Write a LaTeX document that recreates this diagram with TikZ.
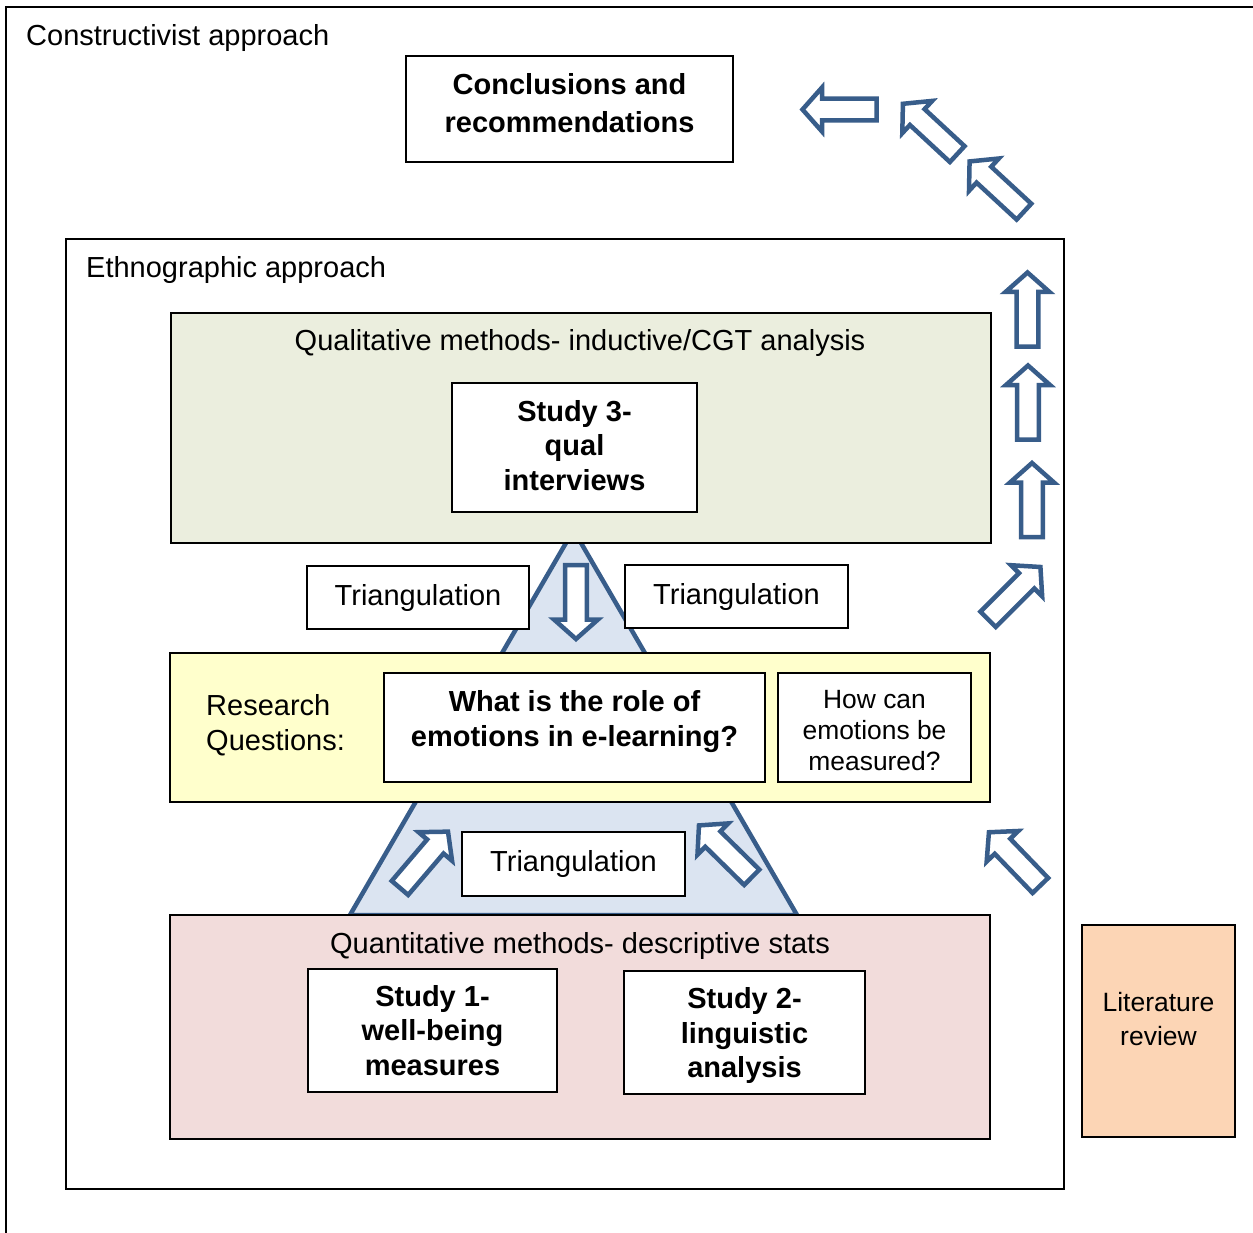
\documentclass[tikz,border=0pt]{standalone}
\usepackage{fontspec}
\setmainfont{Liberation Sans}
\definecolor{arrowblue}{HTML}{385D8A}
\definecolor{trifill}{HTML}{DBE4F1}
\definecolor{qualfill}{HTML}{EBEEDE}
\definecolor{rqfill}{HTML}{FFFFCC}
\definecolor{quantfill}{HTML}{F2DCDB}
\definecolor{litfill}{HTML}{FCD5B5}
\newcommand\bodyfont{\fontsize{29}{34.5}\selectfont}
\newcommand\smallbody{\fontsize{26.4}{31}\selectfont}
\tikzset{
  x=1pt, y=-1pt,
  frame/.style={draw=black, line width=2pt},
  panel/.style={draw=black, line width=2pt, inner sep=0pt},
  box/.style={draw=black, line width=2pt, fill=white, inner sep=0pt,
    align=center, font=\bodyfont},
  label text/.style={inner sep=0pt, font=\bodyfont},
  barrow/.style={draw=arrowblue, line width=4.5pt, fill=white, line join=miter},
}
% block arrow: #1 centre, #2 direction angle
\newcommand\blockarrow[2]{%
  \begin{scope}[shift={#1}, rotate=#2]
    \draw[barrow] (-37.5,-10.8) -- (17,-10.8) -- (17,-22) -- (36.5,0)
      -- (17,22) -- (17,10.8) -- (-37.5,10.8) -- cycle;
  \end{scope}}
\begin{document}
\begin{tikzpicture}
\useasboundingbox (0,0) rectangle (1253,1233);
\fill[white] (0,0) rectangle (1253,1233);

% outermost frame
\begin{scope}
  \clip (0,0) rectangle (1253,1233);
  \draw[frame] (6,7) rectangle (1280,1260);
\end{scope}
\node[label text, anchor=base west] (constr) at (26,46) {Constructivist approach};

\node[box, minimum width=327, minimum height=106] (concl) at (569.5,109) {};
\node[label text, align=center, font=\fontsize{29}{38}\selectfont\bfseries]
  (conclt) at (569.5,103) {Conclusions and\\recommendations};

% ethnographic frame
\node[panel, fill=white, minimum width=998, minimum height=950] (ethno) at (565,714) {};
\node[label text, anchor=base west] (ethnot) at (86,278) {Ethnographic approach};

% triangulation triangle behind the panels
\draw[draw=arrowblue, fill=trifill, line width=4.5pt, line join=round]
  (573.5,530) -- (797,915) -- (350,915) -- cycle;

% qualitative panel
\node[panel, fill=qualfill, minimum width=820, minimum height=230] (qual) at (581,428) {};
\node[label text, anchor=base] (qualt) at (580,351) {Qualitative methods- inductive/CGT analysis};
\node[box, minimum width=245, minimum height=129] (study3) at (574.5,447.5) {};
\node[label text, align=center, font=\bodyfont\bfseries]
  (study3t) at (574.5,445.5) {Study 3-\\qual\\interviews};

% triangulation labels
\node[box, minimum width=222, minimum height=63] (tri1) at (418,597.5) {Triangulation};
\node[box, minimum width=223, minimum height=63] (tri2) at (736.5,596.5) {Triangulation};

% research questions panel
\node[panel, fill=rqfill, minimum width=820, minimum height=149] (rq) at (580,727.5) {};
\node[label text, anchor=west, align=left] (rqt) at (206,725) {Research\\Questions:};
\node[box, minimum width=381, minimum height=109] (q1) at (574.5,727.5) {};
\node[label text, align=center, font=\bodyfont\bfseries]
  (q1t) at (574.5,721.5) {What is the role of\\emotions in e-learning?};
\node[box, minimum width=193, minimum height=109] (q2) at (874.5,727.5) {};
\node[label text, align=center, font=\smallbody]
  (q2t) at (874.5,730.5) {How can\\emotions be\\measured?};

\node[box, minimum width=223, minimum height=64] (tri3) at (573.5,864) {Triangulation};

% quantitative panel
\node[panel, fill=quantfill, minimum width=820, minimum height=224] (quant) at (580,1027) {};
\node[label text, anchor=base] (quantt) at (580,953) {Quantitative methods- descriptive stats};
\node[box, font=\bodyfont\bfseries, minimum width=249, minimum height=123]
  (study1) at (432.5,1030.5) {Study 1-\\well-being\\measures};
\node[box, minimum width=241, minimum height=123] (study2) at (744.5,1032.5) {};
\node[label text, align=center, font=\bodyfont\bfseries]
  (study2t) at (744.5,1035.5) {Study 2-\\linguistic\\analysis};

% literature review
\node[panel, fill=litfill, minimum width=153, minimum height=212] (lit) at (1158.5,1031) {};
\node[label text, align=center, font=\fontsize{26.5}{34}\selectfont] (litt) at (1158.5,1019) {Literature\\review};

% block arrows
\blockarrow{(576,602.5)}{270}
\blockarrow{(424.3,859.4)}{49.5}
\blockarrow{(725,851)}{135.5}
\blockarrow{(1014.3,858.5)}{134}
\blockarrow{(1014.6,592.8)}{45}
\blockarrow{(1032,499.5)}{90}
\blockarrow{(1028,402)}{90}
\blockarrow{(1027.5,309)}{90}
\blockarrow{(996.4,186.2)}{137.3}
\blockarrow{(929.7,128.6)}{137.2}
\blockarrow{(839,109.5)}{180}
\end{tikzpicture}
\end{document}
